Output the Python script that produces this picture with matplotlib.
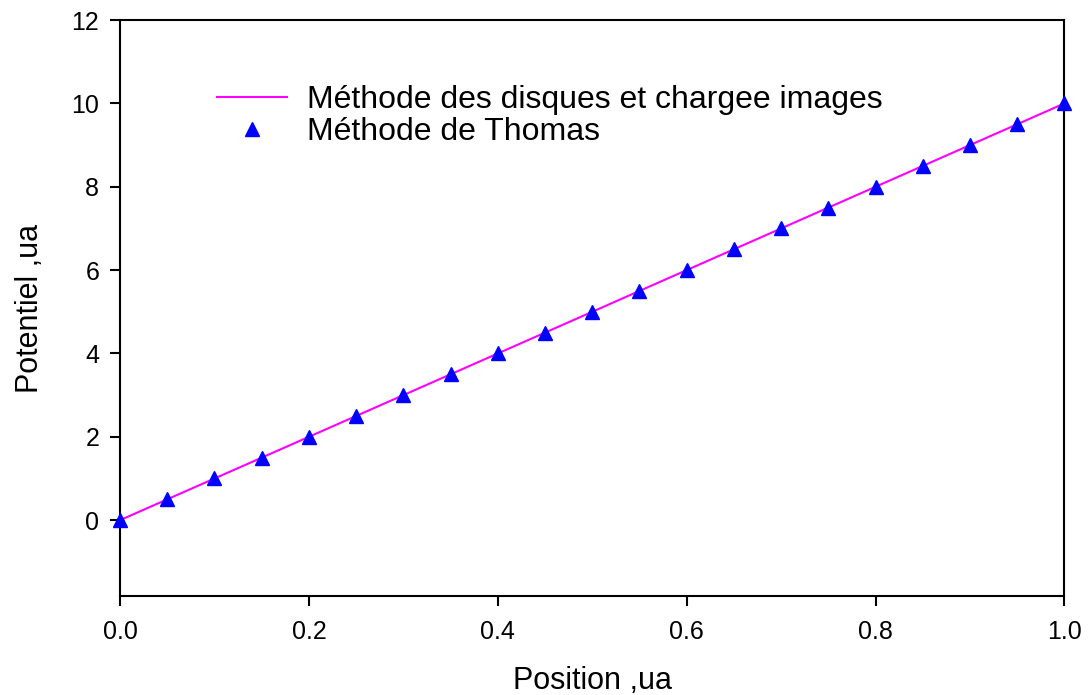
import matplotlib as mpl
mpl.use('Agg')
import matplotlib.pyplot as plt

mpl.rcParams.update({'font.family': 'Liberation Sans'})

# positions (ua) and potentials (ua)
position = [0.00, 0.05, 0.10, 0.15, 0.20, 0.25, 0.30, 0.35, 0.40, 0.45, 0.50,
            0.55, 0.60, 0.65, 0.70, 0.75, 0.80, 0.85, 0.90, 0.95, 1.00]
pot_disques = [0.0, 0.5, 1.0, 1.5, 2.0, 2.5, 3.0, 3.5, 4.0, 4.5, 5.0,
               5.5, 6.0, 6.5, 7.0, 7.5, 8.0, 8.5, 9.0, 9.5, 10.0]
pot_thomas = [0.0, 0.5, 1.0, 1.5, 2.0, 2.5, 3.0, 3.5, 4.0, 4.5, 5.0,
              5.5, 6.0, 6.5, 7.0, 7.5, 8.0, 8.5, 9.0, 9.5, 10.0]

xticks = [0.0, 0.2, 0.4, 0.6, 0.8, 1.0]
yticks = [0, 2, 4, 6, 8, 10, 12]

fig = plt.figure(figsize=(10.88, 6.95), dpi=100)
ax = fig.add_axes([0.1103, 0.1424, 0.8681, 0.8288])

ax.plot(position, pot_disques, color='#ff00ff', lw=1.5,
        label='Méthode des disques et chargee images', clip_on=False, zorder=2)
ax.plot(position, pot_thomas, ls='none', marker='^', color='blue', ms=10,
        label='Méthode de Thomas', clip_on=False, zorder=3)

ax.set_xlim(0, 1)
ax.set_ylim(-1.82, 12)
ax.set_xticks(xticks)
ax.set_xticklabels(['%.1f' % t for t in xticks])
ax.set_yticks(yticks)

for sp in ax.spines.values():
    sp.set_linewidth(1.5)
ax.tick_params(axis='both', direction='out', length=7, width=1.5,
               labelsize=18, top=False, right=False)
ax.tick_params(axis='x', pad=10)
ax.tick_params(axis='y', pad=8)

ax.set_xlabel('Position ,ua', fontsize=22, labelpad=16)
ax.set_ylabel('Potentiel ,ua', fontsize=22, labelpad=19)

ax.legend(loc='upper left', bbox_to_anchor=(0.0894, 0.909), frameon=False,
          fontsize=23, handlelength=2.2, handletextpad=0.6,
          labelspacing=0.05, borderaxespad=0)

fig.savefig('out.png', dpi=100)
plt.close(fig)
